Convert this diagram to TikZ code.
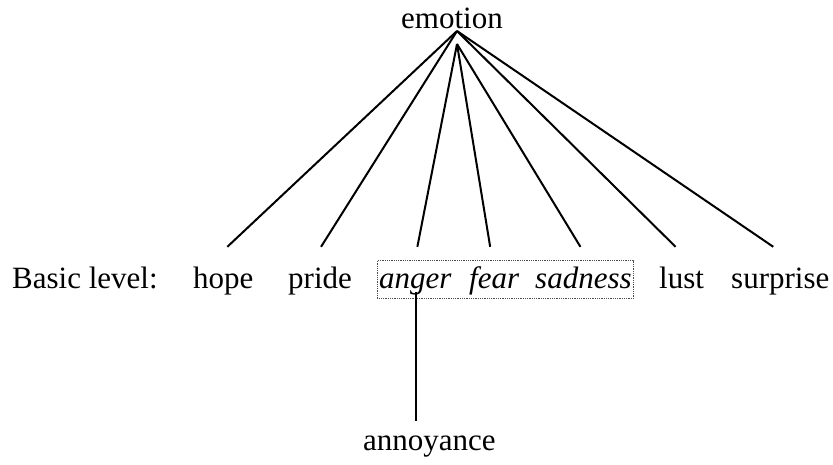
\documentclass[tikz,border=0pt]{standalone}
\usepackage{fontspec}
\setmainfont{Liberation Serif}

\begin{document}
\begin{tikzpicture}[
        x=1pt, y=-1pt,
        every node/.style={inner sep=0pt, anchor=base west, text height=21pt, text depth=7pt,
            font=\fontsize{31}{37}\selectfont},
        basic/.style={font=\fontsize{31}{37}\selectfont\itshape},
        link/.style={draw, line width=2pt},
        frame/.style={draw=black!70, densely dotted, line width=0.8pt},
    ]
    \useasboundingbox (0,0) rectangle (833,464);

    % top and bottom
    \node (emotion) at (401,28) {emotion};
    \node (annoyance) at (363,450) {annoyance};

    % basic level row
    \node (label) at (12,288) {Basic level:};
    \node (hope) at (193,288) {hope};
    \node (pride) at (288,288) {pride};
    \node[basic] (anger) at (379,288) {anger};
    \node[basic] (fear) at (469,288) {fear};
    \node[basic] (sadness) at (535,288) {sadness};
    \node (lust) at (659,288) {lust};
    \node (surprise) at (731,288) {surprise};

    \coordinate (hub) at (457,31);
    \coordinate (hubin) at (457,44);

    \foreach \w/\dx in {hope/4, pride/1, lust/-6, surprise/-7}
        \draw[link] (hub) -- ([xshift=\dx pt, yshift=20pt]\w.north);
    \foreach \w/\dx in {anger/2, fear/-4, sadness/-3}
        \draw[link] (hubin) -- ([xshift=\dx pt, yshift=20pt]\w.north);

    \draw[frame] ([xshift=-2pt, yshift=6pt]anger.north west) rectangle ([xshift=2pt, yshift=-3pt]sadness.south east);

    \draw[link] ([xshift=1pt, yshift=3pt]anger.south) -- ([xshift=1pt, yshift=8pt]anger.south |- annoyance.north);

\end{tikzpicture}
\end{document}
